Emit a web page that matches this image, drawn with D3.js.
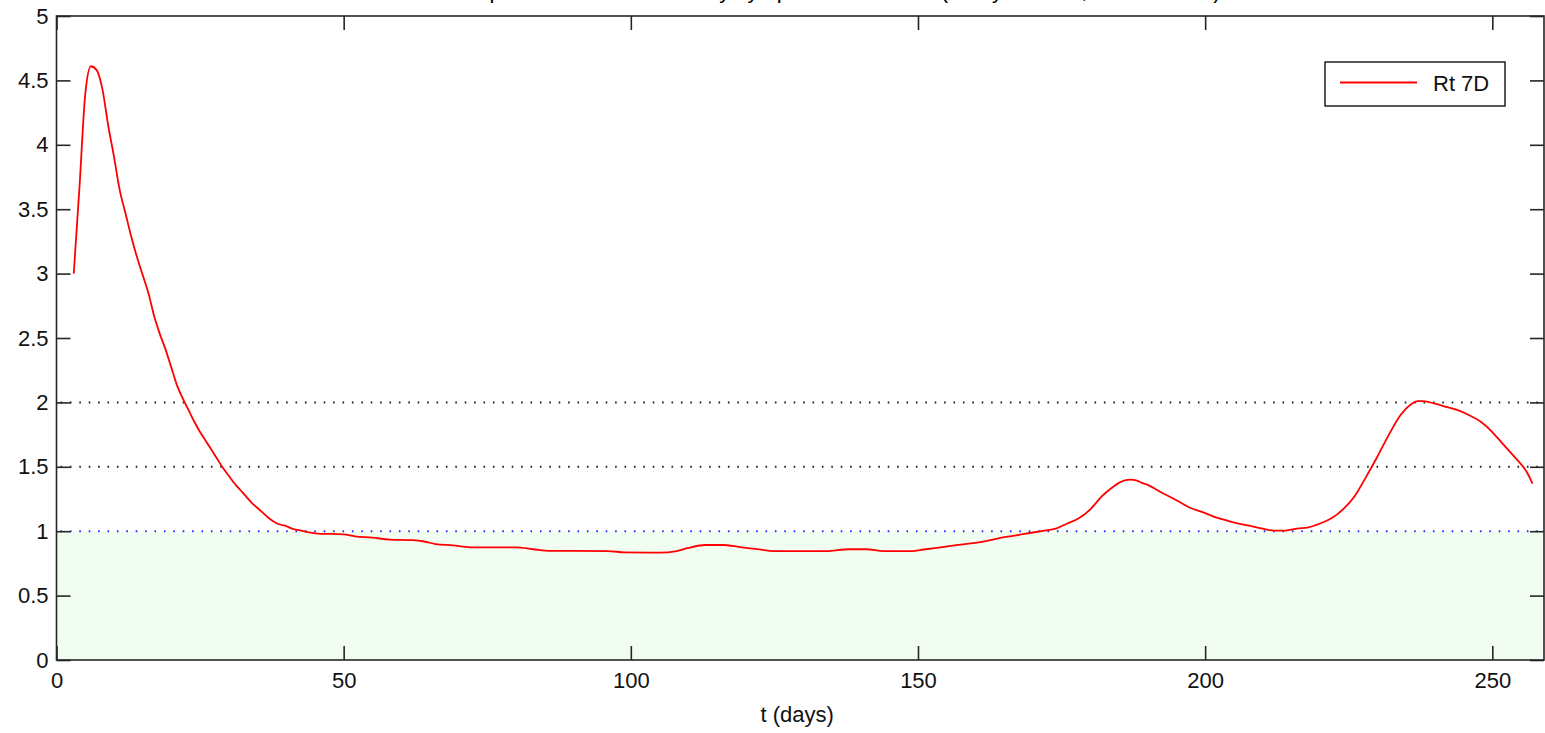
<!DOCTYPE html>
<html>
<head>
<meta charset="utf-8">
<script src="https://cdn.jsdelivr.net/npm/d3@7"></script>
<style>
  html, body { margin: 0; padding: 0; background: #ffffff; }
  svg { display: block; font-family: "Liberation Sans", Arial, sans-serif; }
</style>
</head>
<body>
<svg id="chart" width="1545" height="733"></svg>
<script>
// Rt (7-day window) series: day index and estimated reproduction number
const days = [3, 4, 5, 6, 7, 8, 9, 10, 11, 12, 13, 14, 15, 16, 17, 18, 19, 20, 21, 22, 23, 24, 25, 26, 27, 28, 29, 30,
  31, 32, 33, 34, 35, 36, 37, 38, 39, 40, 41, 42, 43, 44, 46, 48, 50, 52, 55, 58, 62, 64, 66, 69, 72, 80, 83, 86,
  96, 99, 105, 108, 110, 113, 116, 119, 122, 125, 134, 138, 141, 144, 149, 151, 154, 157, 160, 162, 164, 166, 168,
  170, 172, 174, 176, 178, 180, 181, 182, 183, 184, 185, 186, 187, 188, 189, 190, 192, 195, 197, 200, 202, 204, 206,
  208, 210, 212, 214, 216, 218, 220, 222, 224, 226, 228, 230, 232, 234, 236, 237, 238, 240, 242, 244, 246, 248, 250,
  251, 253, 255, 256, 257];
const rt7d = [3.0, 3.67, 4.39, 4.61, 4.58, 4.43, 4.15, 3.91, 3.65, 3.47, 3.29, 3.13, 2.99, 2.85, 2.67, 2.53, 2.41, 2.27,
  2.13, 2.03, 1.94, 1.85, 1.77, 1.70, 1.63, 1.56, 1.49, 1.43, 1.37, 1.32, 1.27, 1.22, 1.18, 1.14, 1.10, 1.07, 1.05,
  1.04, 1.02, 1.01, 1.00, 0.99, 0.98, 0.98, 0.975, 0.96, 0.95, 0.935, 0.93, 0.92, 0.90, 0.89, 0.875, 0.875, 0.86,
  0.847, 0.846, 0.835, 0.833, 0.846, 0.87, 0.893, 0.893, 0.877, 0.86, 0.845, 0.845, 0.86, 0.86, 0.846, 0.846, 0.858,
  0.875, 0.893, 0.91, 0.925, 0.945, 0.96, 0.975, 0.99, 1.005, 1.02, 1.06, 1.10, 1.17, 1.22, 1.27, 1.31, 1.345, 1.375,
  1.395, 1.40, 1.395, 1.375, 1.36, 1.31, 1.24, 1.19, 1.14, 1.105, 1.08, 1.056, 1.04, 1.02, 1.005, 1.005, 1.02, 1.03,
  1.06, 1.10, 1.17, 1.27, 1.42, 1.58, 1.75, 1.90, 1.99, 2.01, 2.01, 1.99, 1.965, 1.94, 1.90, 1.85, 1.77, 1.72, 1.62,
  1.52, 1.46, 1.37];

// Horizontal reference levels
const thresholdLevels = [2, 1.5];
const epidemicThreshold = 1;

const xTicks = [0, 50, 100, 150, 200, 250];
const yTicks = [0, 0.5, 1, 1.5, 2, 2.5, 3, 3.5, 4, 4.5, 5];
const xLabel = "t (days)";
const legendLabel = "Rt 7D";
const titleText = "Effective reproduction number Rt by symptom onset date (7-day window, Cori method)";

const svg = d3.select("#chart");
const plotLeft = 56.5, plotRight = 1544, plotTop = 16, plotBottom = 660;

const x = d3.scaleLinear().domain([0, 259]).range([plotLeft, plotRight]);
const y = d3.scaleLinear().domain([0, 5]).range([plotBottom, plotTop]);

// Title sits above the axes box, at the top edge of the figure
svg.append("text")
  .attr("x", (plotLeft + plotRight) / 2)
  .attr("y", -2)
  .attr("text-anchor", "middle")
  .attr("font-size", 22)
  .attr("fill", "#000")
  .text(titleText);

// Shaded region below Rt = 1
svg.append("rect")
  .attr("x", x(0))
  .attr("y", y(epidemicThreshold))
  .attr("width", x(259) - x(0))
  .attr("height", y(0) - y(epidemicThreshold))
  .attr("fill", "#f1fdf1");

// Dotted reference lines
svg.selectAll("line.level")
  .data(thresholdLevels)
  .join("line")
  .attr("class", "level")
  .attr("x1", x(0) + 4).attr("x2", x(259) - 2)
  .attr("y1", d => y(d)).attr("y2", d => y(d))
  .attr("stroke", "#222")
  .attr("stroke-width", 2)
  .attr("stroke-dasharray", "1.6 7.8");

svg.append("line")
  .attr("x1", x(0) + 4).attr("x2", x(259) - 2)
  .attr("y1", y(epidemicThreshold)).attr("y2", y(epidemicThreshold))
  .attr("stroke", "#2a2aff")
  .attr("stroke-width", 2)
  .attr("stroke-dasharray", "1.6 7.8");

// Rt curve
const series = days.map((d, i) => [d, rt7d[i]]);
svg.append("path")
  .datum(series)
  .attr("fill", "none")
  .attr("stroke", "#ff0000")
  .attr("stroke-width", 1.8)
  .attr("stroke-linejoin", "round")
  .attr("d", d3.line().x(d => x(d[0])).y(d => y(d[1])).curve(d3.curveMonotoneX));

// Axes (ticks point inward on all four sides)
const axisColor = "#262626";
const fmt = d => String(d);

const gx = svg.append("g").attr("transform", `translate(0,${plotBottom})`)
  .call(d3.axisBottom(x).tickValues(xTicks).tickFormat(fmt).tickSizeInner(-14).tickSizeOuter(0).tickPadding(12));
const gy = svg.append("g").attr("transform", `translate(${plotLeft},0)`)
  .call(d3.axisLeft(y).tickValues(yTicks).tickFormat(fmt).tickSizeInner(-14).tickSizeOuter(0).tickPadding(8));
const gt = svg.append("g").attr("transform", `translate(0,${plotTop})`)
  .call(d3.axisTop(x).tickValues(xTicks).tickFormat("").tickSizeInner(-14).tickSizeOuter(0));
const gr = svg.append("g").attr("transform", `translate(${plotRight},0)`)
  .call(d3.axisRight(y).tickValues(yTicks).tickFormat("").tickSizeInner(-14).tickSizeOuter(0));

[gx, gy, gt, gr].forEach(g => {
  g.select(".domain").remove();
  g.selectAll(".tick line").attr("stroke", axisColor).attr("stroke-width", 1.6);
  g.selectAll(".tick text").attr("fill", "#111").attr("font-size", 22).attr("font-family", "Liberation Sans, Arial, sans-serif");
});

// Axes box
svg.append("rect")
  .attr("x", plotLeft).attr("y", plotTop)
  .attr("width", plotRight - plotLeft).attr("height", plotBottom - plotTop)
  .attr("fill", "none")
  .attr("stroke", axisColor)
  .attr("stroke-width", 1.6);

// X axis label
svg.append("text")
  .attr("x", (plotLeft + plotRight) / 2 - 3)
  .attr("y", 722)
  .attr("text-anchor", "middle")
  .attr("font-size", 22)
  .attr("fill", "#111")
  .text(xLabel);

// Legend
const lg = svg.append("g");
lg.append("rect")
  .attr("x", 1325).attr("y", 62).attr("width", 180).attr("height", 44)
  .attr("fill", "#fff").attr("stroke", "#111").attr("stroke-width", 1.4);
lg.append("line")
  .attr("x1", 1340).attr("x2", 1417).attr("y1", 82.5).attr("y2", 82.5)
  .attr("stroke", "#ff0000").attr("stroke-width", 1.8);
lg.append("text")
  .attr("x", 1433).attr("y", 91)
  .attr("font-size", 22)
  .attr("fill", "#111")
  .text(legendLabel);
</script>
</body>
</html>
